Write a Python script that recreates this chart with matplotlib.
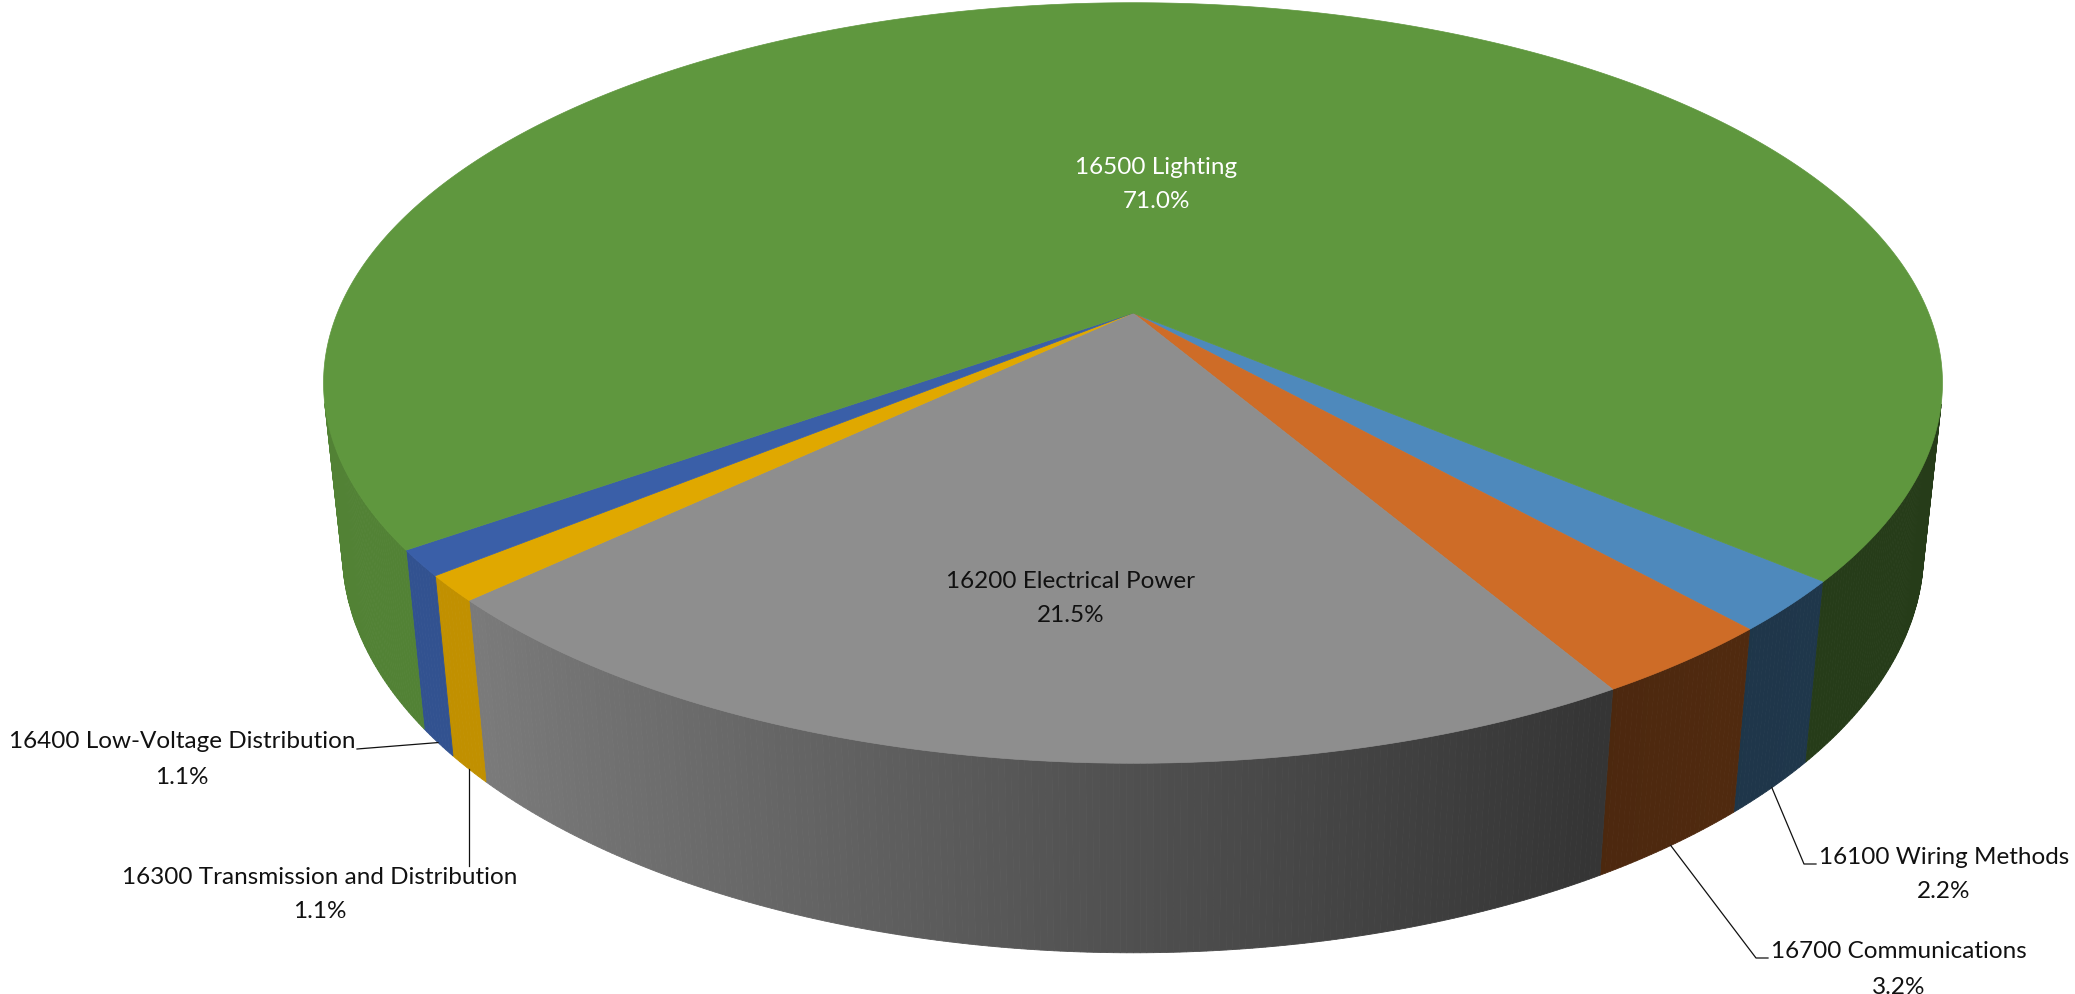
import numpy as np
import matplotlib.pyplot as plt
import matplotlib.colors as mcolors
from matplotlib.patches import Polygon

plt.rcParams['font.family'] = ['Lato', 'DejaVu Sans']

# slices, clockwise from the right front
names = ['16100 Wiring Methods', '16700 Communications', '16200 Electrical Power',
         '16300 Transmission and Distribution', '16400 Low-Voltage Distribution',
         '16500 Lighting']
values = [2.2, 3.2, 21.5, 1.1, 1.1, 71.0]
colors = ['#4E89BC', '#CE6C27', '#8E8E8E', '#E0A800', '#3A5FA8', '#5F973E']

# camera for the tilted disc
tilt = np.radians(27.5)
dist = 4.82
scale = 3835
thick = 0.24
cx, cy = 1133, 314
start = -40.1


def proj(phi, z=0.0, r=1.0):
    a = np.radians(phi)
    x, y = r * np.cos(a), r * np.sin(a)
    c, s = np.cos(tilt), np.sin(tilt)
    depth = y * c + dist - z * s
    return cx + scale * x / depth, cy - scale * (y * s + z * c) / depth


def shade(phi):
    u = np.cos(np.radians(phi))
    return np.interp(u, [-1, -0.72, 0, 0.5, 0.75, 1], [0.86, 0.86, 0.56, 0.37, 0.40, 0.40])


fig = plt.figure(figsize=(20.75, 9.95), dpi=100)
ax = fig.add_axes([0, 0, 1, 1])
ax.set_xlim(0, 2075)
ax.set_ylim(995, 0)
ax.axis('off')

sweep = np.array(values) / sum(values) * 360
edges = start - np.concatenate([[0], np.cumsum(sweep)])
mids = (edges[:-1] + edges[1:]) / 2
limit = -1 / (dist * np.cos(tilt))

# side wall, drawn in thin strips for the shading
for i in range(len(values)):
    a0, a1 = edges[i], edges[i + 1]
    ts = np.linspace(a0, a1, max(2, int(abs(a0 - a1) / 0.4) + 1))
    for p, q in zip(ts[:-1], ts[1:]):
        m = (p + q) / 2
        if np.sin(np.radians(m)) > limit:
            continue
        col = np.array(mcolors.to_rgb(colors[i])) * shade(m)
        quad = [proj(p), proj(q), proj(q, -thick), proj(p, -thick)]
        ax.add_patch(Polygon(quad, closed=True, fc=col, ec=col, lw=0.6))

# top face
for i in range(len(values)):
    ts = np.linspace(edges[i], edges[i + 1], max(3, int(abs(sweep[i]) * 2)))
    pts = [proj(0, 0, 0)] + [proj(t) for t in ts]
    ax.add_patch(Polygon(pts, closed=True, fc=colors[i], ec=colors[i], lw=0.5))

fs = 17.5
pct = ['%.1f%%' % v for v in values]

# labels on the top face
ax.text(1156, 167, names[5], color='white', fontsize=fs, ha='center', va='center')
ax.text(1156, 201, pct[5], color='white', fontsize=fs, ha='center', va='center')
ax.text(1071, 581, names[2], color='#111111', fontsize=fs, ha='center', va='center')
ax.text(1071, 616, pct[2], color='#111111', fontsize=fs, ha='center', va='center')

# outside labels with leader lines
outer = {
    4: dict(xy=(182, 742), line=[(357, 750)]),
    3: dict(xy=(320, 877), line=None),
    0: dict(xy=(1944, 857), line=[(1804, 865), (1816, 865)]),
    1: dict(xy=(1899, 952), line=[(1756, 959), (1768, 959)]),
}
for i, o in outer.items():
    ax0, ay0 = proj(mids[i], -thick)
    if o['line'] is None:
        pts = [(ax0, ay0), (ax0, o['xy'][1] - 10)]
    else:
        pts = [(ax0, ay0)] + o['line']
    xs, ys = zip(*pts)
    ax.plot(xs, ys, color='#111111', lw=0.9)
    ax.text(o['xy'][0], o['xy'][1], names[i], color='#111111', fontsize=fs, ha='center', va='center')
    ax.text(o['xy'][0], o['xy'][1] + 35, pct[i], color='#111111', fontsize=fs, ha='center', va='center')

fig.savefig('out.png', dpi=100, facecolor='white')
